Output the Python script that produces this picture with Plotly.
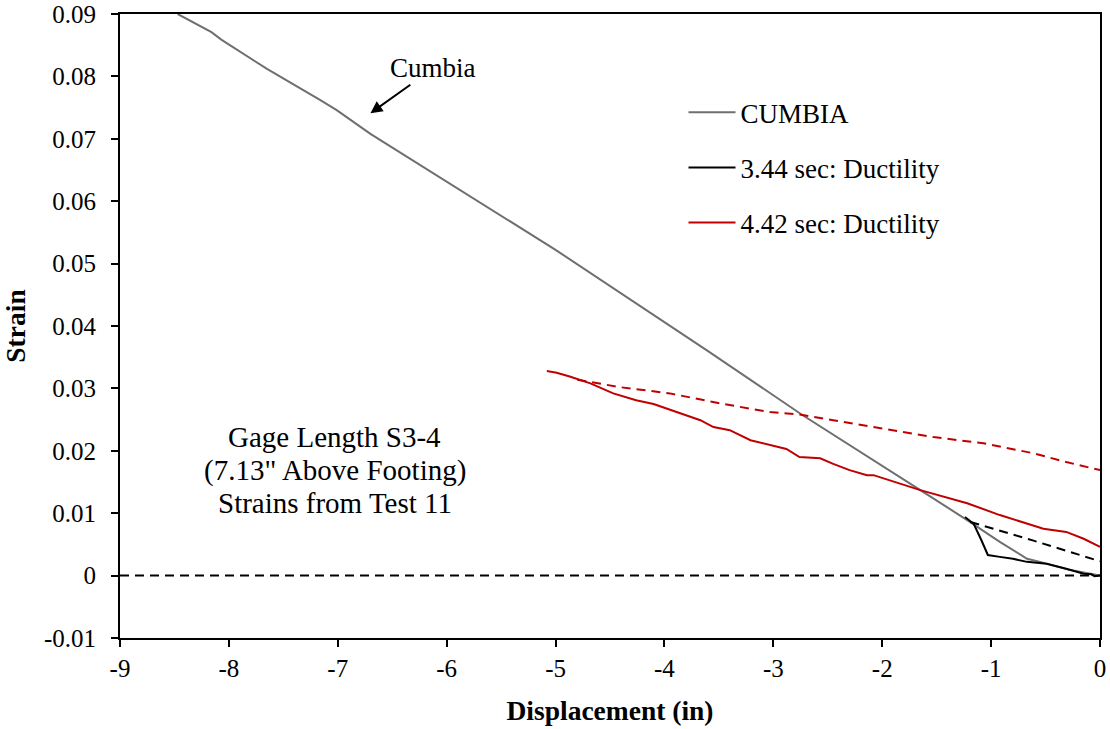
import plotly.graph_objects as go

#######################################
# DATA
cumbia_x = [-8.47, -8.16, -8.07, -7.65, -7.16, -7.01, -6.70, -5.97, -5.00,
            -3.61, -2.73, -1.65, -1.22, -0.92, -0.67, -0.55, -0.30, 0.00]
cumbia_y = [0.0900, 0.0871, 0.0859, 0.0812, 0.0762, 0.0746, 0.0708, 0.0628, 0.0522,
            0.0361, 0.0257, 0.0137, 0.0089, 0.0054, 0.0027, 0.0022, 0.0010, 0.0000]

t344_x = [-1.24, -1.16, -1.09, -1.03, -0.92, -0.80, -0.67, -0.49, -0.31, -0.15, -0.08, -0.05, 0.00]
t344_y = [0.0094, 0.0083, 0.0057, 0.0033, 0.0030, 0.0027, 0.0022, 0.0019, 0.0011, 0.0003, 0.0002, -0.0001, 0.0000]

t344_dash_x = [-1.19, -0.61, 0.00]
t344_dash_y = [0.0086, 0.0056, 0.0023]

t442_x = [-5.08, -4.99, -4.87, -4.68, -4.47, -4.26, -4.10, -3.80, -3.67, -3.55, -3.40, -3.21,
          -2.88, -2.76, -2.57, -2.45, -2.30, -2.14, -2.08, -1.65, -1.22, -0.92, -0.52, -0.31,
          -0.15, 0.00]
t442_y = [0.0328, 0.0325, 0.0319, 0.0308, 0.0292, 0.0281, 0.0275, 0.0257, 0.0249, 0.0238, 0.0233, 0.0217,
          0.0203, 0.0190, 0.0188, 0.0179, 0.0169, 0.0161, 0.0161, 0.0137, 0.0116, 0.0097, 0.0075, 0.0070,
          0.0059, 0.0046]

t442_dash_x = [-4.80, -4.41, -3.95, -3.49, -3.03, -2.76, -2.45, -1.99, -1.53, -1.07, -0.61, -0.31, 0.00]
t442_dash_y = [0.0314, 0.0302, 0.0292, 0.0276, 0.0262, 0.0258, 0.0249, 0.0236, 0.0222, 0.0212, 0.0196, 0.0182, 0.0169]

zero_x = [-9, 0]
zero_y = [0, 0]

x_ticks = [-9, -8, -7, -6, -5, -4, -3, -2, -1, 0]
x_labels = ['-9', '-8', '-7', '-6', '-5', '-4', '-3', '-2', '-1', '0']
y_ticks = [-0.01, 0, 0.01, 0.02, 0.03, 0.04, 0.05, 0.06, 0.07, 0.08, 0.09]
y_labels = ['-0.01', '0', '0.01', '0.02', '0.03', '0.04', '0.05', '0.06', '0.07', '0.08', '0.09']

note_lines = ['Gage Length S3-4', '(7.13" Above Footing)', 'Strains from Test 11']
note_y = [0.0222, 0.0169, 0.0116]
#######################################

serif = 'Liberation Serif'
gray = '#6f6f6f'
red = '#c00000'
dash = '9px,6px'

fig = go.Figure()
fig.add_trace(go.Scatter(x = zero_x, y = zero_y, mode = 'lines', showlegend = False,
                         line = dict(color = 'black', width = 2, dash = dash)))
fig.add_trace(go.Scatter(x = cumbia_x, y = cumbia_y, mode = 'lines', name = 'CUMBIA', legendgroup = 'a',
                         line = dict(color = gray, width = 2)))
fig.add_trace(go.Scatter(x = t344_x, y = t344_y, mode = 'lines', name = '3.44 sec: Ductility', legendgroup = 'b',
                         line = dict(color = 'black', width = 2)))
fig.add_trace(go.Scatter(x = t344_dash_x, y = t344_dash_y, mode = 'lines', showlegend = False,
                         line = dict(color = 'black', width = 2, dash = dash)))
fig.add_trace(go.Scatter(x = t442_x, y = t442_y, mode = 'lines', name = '4.42 sec: Ductility', legendgroup = 'c',
                         line = dict(color = red, width = 2)))
fig.add_trace(go.Scatter(x = t442_dash_x, y = t442_dash_y, mode = 'lines', showlegend = False,
                         line = dict(color = red, width = 2, dash = dash)))

fig.add_annotation(x = -6.70, y = 0.0741, text = 'Cumbia', showarrow = True,
                   ax = 63, ay = -45, arrowhead = 2, arrowsize = 1.2, arrowwidth = 2,
                   arrowcolor = 'black', font = dict(family = serif, size = 27, color = 'black'))
for txt, yy in zip(note_lines, note_y):
    fig.add_annotation(x = -7.03, y = yy, xref = 'x', yref = 'y', showarrow = False, text = txt,
                       font = dict(family = serif, size = 29, color = 'black'))

fig.update_layout(
    width = 1110,
    height = 729,
    margin = dict(l = 120, r = 10, t = 14, b = 91),
    font = dict(family = serif, color = 'black', size = 25),
    plot_bgcolor = 'white',
    paper_bgcolor = 'white',
    legend = dict(x = 0.575, y = 0.881, xanchor = 'left', yanchor = 'top',
                  bgcolor = 'rgba(0,0,0,0)', tracegroupgap = 17, itemwidth = 47,
                  font = dict(family = serif, size = 27)),
    xaxis_title = dict(text = '<b>Displacement (in)</b>', font = dict(size = 27.5), standoff = 20),
    yaxis_title = dict(text = '<b>Strain</b>', font = dict(size = 27.5), standoff = 13),
)
fig.update_xaxes(
    range = [-9, 0], tickvals = x_ticks, ticktext = x_labels, automargin = False,
    ticklabeloverflow = 'allow',
    mirror = True, ticks = 'outside', ticklen = 7, tickwidth = 2, tickcolor = 'black',
    showline = True, linecolor = 'black', linewidth = 2,
    showgrid = False, zeroline = False
)
fig.update_yaxes(
    range = [-0.01, 0.09], tickvals = y_ticks, ticktext = y_labels, automargin = False,
    ticklabelstandoff = 10, ticklabeloverflow = 'allow',
    mirror = True, ticks = 'outside', ticklen = 7, tickwidth = 2, tickcolor = 'black',
    showline = True, linecolor = 'black', linewidth = 2,
    showgrid = False, zeroline = False
)
# drop the browser's default body margin so the figure fills the window exactly
fig.write_html("out.html", config = {'displayModeBar': False},
               post_script = "document.body.style.margin = '0px';")
